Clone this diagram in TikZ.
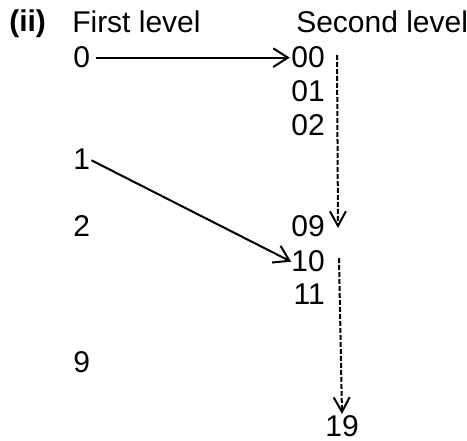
\documentclass[tikz,border=0pt]{standalone}
\usepackage{fontspec}
\setmainfont{Liberation Sans}
\usetikzlibrary{arrows.meta}
\usetikzlibrary{positioning}
\tikzset{lbl/.style = {inner sep = 0, font = \fontsize{22.5}{27}\selectfont}}
\tikzset{col1/.style = {lbl, anchor = base west}}
\tikzset{col2/.style = {lbl, anchor = base east}}
\tikzset{barb/.style = {-{Straight Barb[length = 11pt, width = 14pt]}, line width = 1.5pt}}
\tikzset{dots/.style = {-{Straight Barb[length = 11pt, width = 12pt]}, dash pattern = on 3.75pt off 1.5pt, line width = 1.5pt}}

\begin{document}
\begin{tikzpicture}[x = 0.75pt, y = -0.75pt]
    \useasboundingbox (0, 0) rectangle (467, 441);

    \node [lbl, anchor = base west, font = \bfseries\fontsize{22.5}{27}\selectfont] (part) at (9, 32) {(ii)};
    \node [col1] (first) at (72, 33) {First level};
    \node [col1] (second) at (296, 33) {Second level};

    \node [col1] (a0) at (73, 68) {0};
    \node [col1] (a1) at (73, 170) {1};
    \node [col1] (a2) at (73, 237) {2};
    \node [col1] (a9) at (73, 372) {9};

    \node [col2] (b00) at (325, 68) {00};
    \node [col2] (b01) at (325, 102) {01};
    \node [col2] (b02) at (325, 136) {02};
    \node [col2] (b09) at (325, 237) {09};
    \node [col2] (b10) at (325, 272) {10};
    \node [col2] (b11) at (325, 305) {11};
    \node [lbl, anchor = base] (b19) at (342, 436) {19};

    \coordinate (top1) at (337, 55);
    \coordinate (end1) at (338, 228);
    \coordinate (top2) at (339, 258);
    \coordinate (end2) at (342, 414);

    \draw [barb, shorten <= 4pt, shorten >= 1pt] (a0.east) -- (b00.west);
    \draw [barb, shorten <= 1pt, shorten >= 0pt] (a1.east) -- (b10.west);

    \draw [dots] (top1) -- (end1);
    \draw [dots] (top2) -- (end2);
\end{tikzpicture}
\end{document}
